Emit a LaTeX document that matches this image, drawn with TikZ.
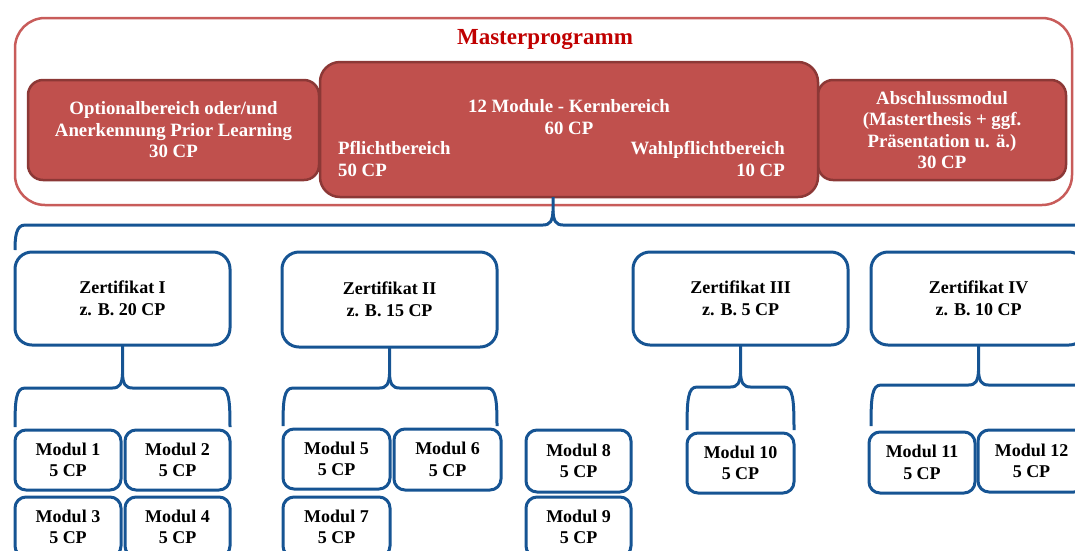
\documentclass[tikz,border=0pt]{standalone}
\usepackage{fontspec}
\setmainfont{Liberation Serif}
\usetikzlibrary{calc}
\definecolor{boxred}{RGB}{192,80,77}
\definecolor{boxredline}{RGB}{140,56,54}
\definecolor{outerred}{RGB}{200,92,90}
\definecolor{titlered}{RGB}{192,0,0}
\definecolor{zblue}{RGB}{22,84,147}
\newcommand\txtfont{\bfseries\fontsize{18}{21.5}\selectfont}
\newcommand\redfont{\bfseries\fontsize{18.8}{21.5}\selectfont}
\newcommand\bx[7]{\node[#6, minimum width={#4-#2}, minimum height={#5-#3}] (#1) at ({(#2+#4)/2},{(#3+#5)/2}) {#7};}
% #1 stem end, #2 left leg, #3 right leg, #4 L, #5 R, #6 H, #7 C
\newcommand\cbrace[7]{%
\draw[brace] (#2) .. controls (#4,#6+12) and (#4+1,#6) .. (#4+10,#6) -- (#7-10,#6) .. controls (#7-3,#6) and (#7-0.5,#6-4) .. (#7,#6-14) -- (#1);
\draw[brace] (#3) .. controls (#5,#6+12) and (#5-1,#6) .. (#5-10,#6) -- (#7+10,#6) .. controls (#7+3,#6) and (#7+0.5,#6-4) .. (#7,#6-14);}
\tikzset{
  outerbox/.style={draw=outerred, line width=2.5pt, rounded corners=30pt, inner sep=0pt, outer sep=0pt},
  redbox/.style={draw=boxredline, fill=boxred, line width=2.5pt, rounded corners=15pt, text=white, font=\redfont, align=center, inner sep=0pt, outer sep=0pt},
  zbox/.style={draw=zblue, fill=white, line width=3pt, rounded corners=17pt, font=\txtfont, align=center, inner sep=0pt, outer sep=0pt},
  modbox/.style={zbox, rounded corners=11pt},
  brace/.style={draw=zblue, line width=3pt},
  wtxt/.style={text=white, font=\redfont, inner sep=0pt}
}
\begin{document}
\begin{tikzpicture}[x=1pt,y=-1pt]
\useasboundingbox (0,0) rectangle (1075,550);
\clip (0,0) rectangle (1075,550);
% top
\bx{outer}{15}{18}{1072}{205}{outerbox}{}
\node[text=titlered, font=\bfseries\fontsize{23}{27}\selectfont, inner sep=0pt] (title) at (545,40) {Masterprogramm};
\bx{opt}{28}{80}{319}{180}{redbox}{Optionalbereich oder/und\\Anerkennung Prior Learning\\30 CP}
\bx{absch}{818}{80}{1066}{180}{redbox}{Abschlussmodul\\(Masterthesis + ggf.\\Präsentation u. ä.)\\30 CP}
\bx{kern}{320}{62}{818}{197}{redbox, rounded corners=20pt}{}
\node[wtxt, align=center] (kt) at (569,117) {12 Module - Kernbereich\\60 CP};
\node[wtxt, align=left, anchor=west] (pf) at (338,159) {Pflichtbereich\\50 CP};
\node[wtxt, align=right, anchor=east] (wp) at (785,159) {Wahlpflichtbereich\\10 CP};
% certificates
\bx{z1}{15}{252}{230}{345}{zbox}{Zertifikat I\\z. B. 20 CP}
\bx{z2}{282}{252}{497}{347}{zbox}{Zertifikat II\\z. B. 15 CP}
\bx{z3}{633}{252}{848}{345}{zbox}{Zertifikat III\\z. B. 5 CP}
\bx{z4}{871}{252}{1086}{345}{zbox}{Zertifikat IV\\z. B. 10 CP}
% modules
\bx{m1}{15}{430}{121}{490}{modbox}{Modul 1\\5 CP}
\bx{m2}{125}{430}{230}{490}{modbox}{Modul 2\\5 CP}
\bx{m3}{15}{497}{121}{557}{modbox}{Modul 3\\5 CP}
\bx{m4}{125}{497}{230}{557}{modbox}{Modul 4\\5 CP}
\bx{m5}{283}{429}{390}{489}{modbox}{Modul 5\\5 CP}
\bx{m6}{394}{429}{501}{490}{modbox}{Modul 6\\5 CP}
\bx{m7}{283}{497}{390}{557}{modbox}{Modul 7\\5 CP}
\bx{m8}{526}{430}{631}{492}{modbox}{Modul 8\\5 CP}
\bx{m9}{526}{497}{631}{557}{modbox}{Modul 9\\5 CP}
\bx{m10}{687}{433}{794}{493}{modbox}{Modul 10\\5 CP}
\bx{m11}{869}{432}{975}{493}{modbox}{Modul 11\\5 CP}
\bx{m12}{978}{430}{1085}{492}{modbox}{Modul 12\\5 CP}
% braces
\cbrace{$(kern.south)+(-16,0)$}{$(z1.north west)+(0,-2)$}{$(z4.north east)+(0,-2)$}{15}{1086}{225}{553}
\cbrace{z1.south}{$(m1.north west)+(0,-3)$}{$(m2.north east)+(0,-3)$}{15}{230}{388}{122.5}
\cbrace{z2.south}{$(m5.north west)+(0,-3)$}{$(m6.north east)+(-4,-3)$}{283}{497}{388}{389.5}
\cbrace{z3.south}{$(m10.north west)+(0,-3)$}{$(m10.north east)+(0,-3)$}{687}{794}{387}{740.5}
\cbrace{z4.south}{$(m11.north west)+(2,-6)$}{$(m12.north east)+(0,-3)$}{871}{1085}{385}{978.5}
\end{tikzpicture}
\end{document}
